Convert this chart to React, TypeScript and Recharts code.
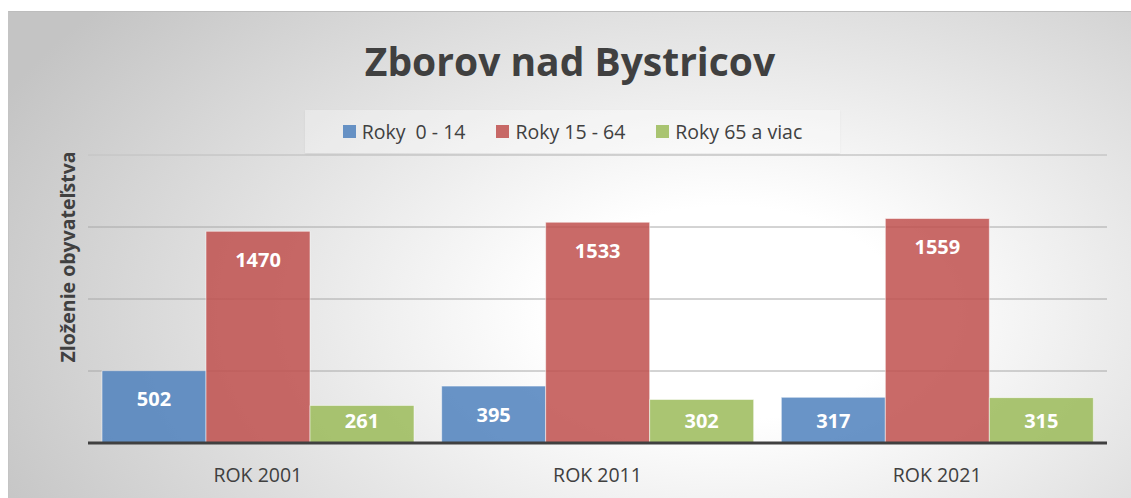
import React from 'react'
import {
  BarChart,
  Bar,
  XAxis,
  YAxis,
  CartesianGrid,
  Legend,
  LabelList,
  ReferenceLine,
} from 'recharts'

// údaje z grafu
const years = ['ROK 2001', 'ROK 2011', 'ROK 2021']
const kids = [502, 395, 317]
const adults = [1470, 1533, 1559]
const seniors = [261, 302, 315]
const gridTicks = [0, 500, 1000, 1500]

const seriesNames = ['Roky  0 - 14', 'Roky 15 - 64', 'Roky 65 a viac']
const seriesColors = ['#4f81bd', '#c0504d', '#9bbb59']
const seriesKeys = ['kids', 'adults', 'seniors']

const chartData = years.map((year, i) => ({
  year,
  kids: kids[i],
  adults: adults[i],
  seniors: seniors[i],
}))

const FONT = '"Open Sans", Lato, sans-serif'
const TEXT = '#404040'

const WIDTH = 1123
const HEIGHT = 487

function ValueLabel(props: any) {
  const { x, y, width, height, value } = props
  const top = Number(y)
  const bottom = top + Number(height)
  const cy = Math.min(top + 28, bottom - 23)
  return (
    <text
      x={Number(x) + Number(width) / 2}
      y={cy}
      textAnchor="middle"
      dominantBaseline="central"
      fill="#ffffff"
      fontFamily={FONT}
      fontWeight={700}
      fontSize={20}
    >
      {value}
    </text>
  )
}

function AxisTitle(props: any) {
  const { viewBox } = props
  const cx = viewBox.x + 58
  const cy = viewBox.y + viewBox.height / 2 - 42
  return (
    <text
      x={cx}
      y={cy}
      transform={`rotate(-90, ${cx}, ${cy})`}
      textAnchor="middle"
      dominantBaseline="central"
      fill={TEXT}
      fontFamily={FONT}
      fontWeight={700}
      fontSize={19.5}
    >
      Zloženie obyvateľstva
    </text>
  )
}

function LegendBox() {
  return (
    <div
      style={{
        display: 'flex',
        justifyContent: 'center',
        alignItems: 'center',
        height: 43,
        background: 'rgba(255,255,255,0.3)',
        boxShadow: '0 1px 2px rgba(0,0,0,0.06)',
        fontFamily: FONT,
        fontSize: 19.5,
        color: TEXT,
      }}
    >
      {seriesNames.map((name, i) => (
        <span
          key={name}
          style={{ display: 'flex', alignItems: 'center', marginRight: i < 2 ? 31 : 0 }}
        >
          <span
            style={{
              width: 13,
              height: 13,
              background: seriesColors[i],
              opacity: 0.85,
              marginRight: 6,
            }}
          />
          <span style={{ whiteSpace: 'pre' }}>{name}</span>
        </span>
      ))}
    </div>
  )
}

export default function App() {
  return (
    <div
      style={{
        position: 'absolute',
        left: 8,
        top: 11,
        width: WIDTH,
        height: HEIGHT,
        borderTop: '1px solid #bdbdbd',
        borderLeft: '1px solid #c4c4c4',
        boxSizing: 'border-box',
        background:
          'radial-gradient(ellipse 72% 100% at 64% 62%, #ffffff 0%, #ffffff 22%, #c4c4c4 100%)',
        overflow: 'hidden',
      }}
    >
      <div
        style={{
          position: 'absolute',
          top: 27,
          left: 0,
          width: '100%',
          textAlign: 'center',
          fontFamily: FONT,
          fontWeight: 700,
          fontSize: 39,
          color: TEXT,
          lineHeight: '44px',
        }}
      >
        Zborov nad Bystricov
      </div>
      <BarChart
        width={WIDTH - 1}
        height={HEIGHT - 1}
        data={chartData}
        margin={{ top: 143, right: 24, bottom: 15, left: 0 }}
        barCategoryGap={14}
        barGap={0}
      >
        <CartesianGrid vertical={false} stroke="#a8a8a8" />
        <ReferenceLine y={2000} stroke="#d6d6d6" />
        <XAxis
          dataKey="year"
          height={40}
          axisLine={{ stroke: TEXT, strokeWidth: 3 }}
          tickLine={false}
          tickMargin={19}
          tick={{ fill: TEXT, fontFamily: FONT, fontSize: 19.5 }}
        />
        <YAxis
          width={79}
          domain={[0, 2000]}
          ticks={gridTicks}
          tick={() => <g />}
          axisLine={false}
          tickLine={false}
          label={<AxisTitle />}
        />
        <Legend
          layout="horizontal"
          verticalAlign="middle"
          wrapperStyle={{ top: 98, left: 296, width: 535 }}
          content={() => <LegendBox />}
        />
        {seriesKeys.map((key, i) => (
          <Bar
            key={key}
            dataKey={key}
            name={seriesNames[i]}
            fill={seriesColors[i]}
            fillOpacity={0.85}
            stroke="#ffffff"
            strokeOpacity={0.5}
            strokeWidth={1}
            isAnimationActive={false}
          >
            <LabelList dataKey={key} content={<ValueLabel />} />
          </Bar>
        ))}
      </BarChart>
    </div>
  )
}
